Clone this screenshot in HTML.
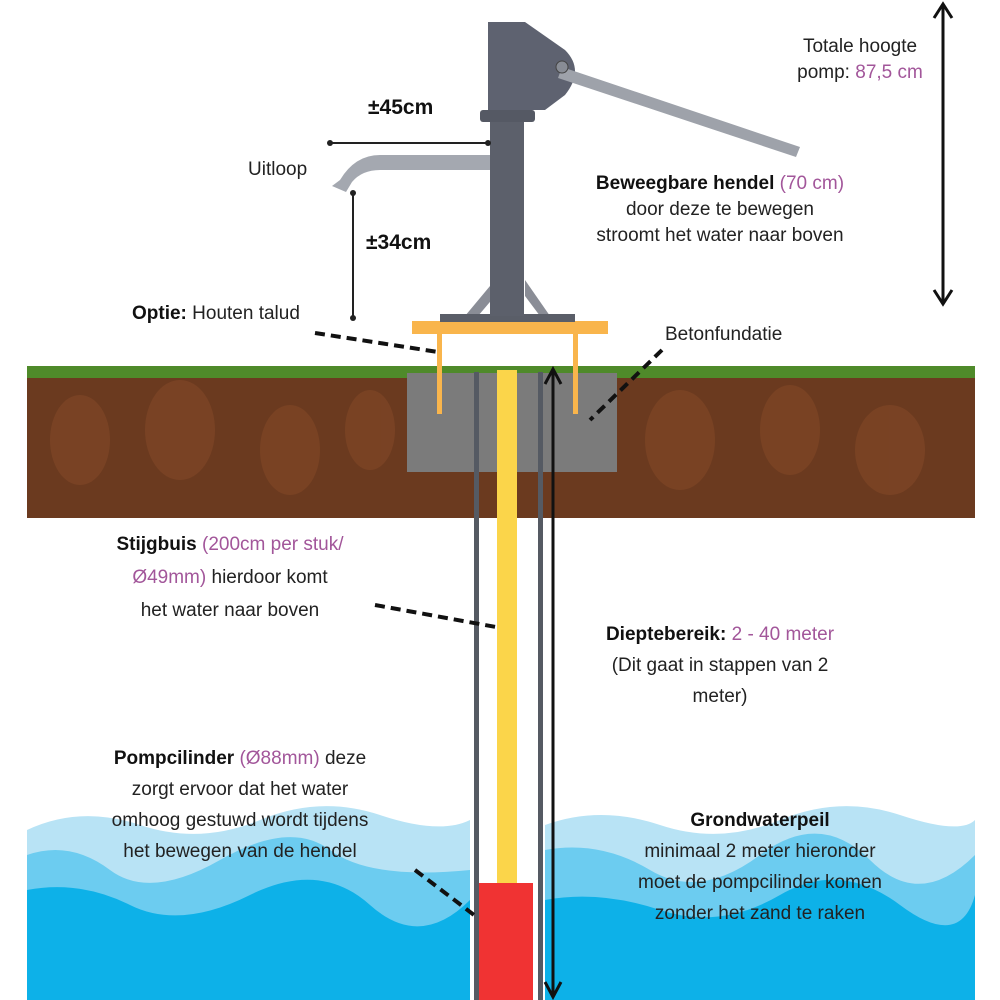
<!DOCTYPE html>
<html><head><style>
body{margin:0;width:1000px;height:1000px;background:#fff;overflow:hidden;position:relative;font-family:"Liberation Sans",sans-serif;color:#222}
.t{position:absolute;font-size:19px;line-height:26px;text-align:center;white-space:nowrap}
.p{color:#a2569a}
b{color:#111}
</style></head><body>
<svg width="1000" height="1000" style="position:absolute;left:0;top:0">
<!-- soil -->
<rect x="27" y="370" width="948" height="148" fill="#6b3a1f"/>
<g fill="#7d4525" opacity="0.8">
<ellipse cx="80" cy="440" rx="30" ry="45"/><ellipse cx="180" cy="430" rx="35" ry="50"/><ellipse cx="290" cy="450" rx="30" ry="45"/><ellipse cx="370" cy="430" rx="25" ry="40"/><ellipse cx="680" cy="440" rx="35" ry="50"/><ellipse cx="790" cy="430" rx="30" ry="45"/><ellipse cx="890" cy="450" rx="35" ry="45"/>
</g>
<rect x="27" y="366" width="948" height="12" fill="#4f8a2a"/>
<!-- concrete -->
<rect x="407" y="373" width="210" height="99" fill="#7b7b7b"/>
<!-- water -->
<path d="M27 830 Q80 805 140 825 T260 820 T380 815 T470 820 L470 1000 L27 1000Z" fill="#b8e3f5"/>
<path d="M545 825 Q600 805 660 825 T780 820 T900 815 T975 820 L975 1000 L545 1000Z" fill="#b8e3f5"/>
<path d="M27 855 Q70 840 110 870 T220 860 T330 850 T470 870 L470 1000 L27 1000Z" fill="#6cccf0"/>
<path d="M545 850 Q600 840 650 870 T760 855 T870 860 T975 855 L975 1000 L545 1000Z" fill="#6cccf0"/>
<path d="M27 890 Q80 880 130 905 T250 895 T370 905 T470 900 L470 1000 L27 1000Z" fill="#0db1e8"/>
<path d="M545 900 Q600 890 660 910 T780 895 T900 905 T975 895 L975 1000 L545 1000Z" fill="#0db1e8"/>
<!-- pipes -->
<rect x="474" y="372" width="5" height="628" fill="#555a63"/>
<rect x="538" y="372" width="5" height="628" fill="#555a63"/>
<rect x="497" y="370" width="20" height="515" fill="#fbd54a"/>
<rect x="479" y="883" width="54" height="117" fill="#f03333"/>
<!-- depth arrow -->
<line x1="553" y1="372" x2="553" y2="995" stroke="#111" stroke-width="3"/>
<path d="M545 384 L553 369 L561 384" fill="none" stroke="#111" stroke-width="3"/>
<path d="M545 982 L553 997 L561 982" fill="none" stroke="#111" stroke-width="3"/>
<!-- total height arrow -->
<line x1="943" y1="6" x2="943" y2="302" stroke="#111" stroke-width="3"/>
<path d="M934 18 L943 4 L952 18" fill="none" stroke="#111" stroke-width="3"/>
<path d="M934 290 L943 304 L952 290" fill="none" stroke="#111" stroke-width="3"/>
<!-- wooden talud -->
<rect x="412" y="321" width="196" height="13" fill="#f9b54c"/>
<rect x="437" y="334" width="5" height="80" fill="#f9b54c"/>
<rect x="573" y="334" width="5" height="80" fill="#f9b54c"/>
<!-- pump -->
<path d="M465 316 L495 280 L495 296 L478 316Z" fill="#8a8d96"/>
<path d="M550 316 L525 280 L525 296 L540 316Z" fill="#8a8d96"/>
<rect x="440" y="314" width="135" height="8" fill="#5a5e68"/>
<rect x="490" y="110" width="34" height="206" fill="#5c606b"/>
<rect x="480" y="110" width="55" height="12" rx="3" fill="#555964"/>
<path d="M488 22 L525 22 L565 50 Q585 70 565 95 L545 110 L488 110Z" fill="#5e6270"/>
<path d="M562 67 L800 147 L796 157 L558 78Z" fill="#9ea2aa"/>
<circle cx="562" cy="67" r="6" fill="#888c95" stroke="#444" stroke-width="1"/>
<path d="M490 155 L380 155 Q355 155 340 180 L332 186 L346 192 L352 182 Q362 170 380 170 L490 170Z" fill="#a4a8b0"/>
<!-- dimension lines -->
<line x1="330" y1="143" x2="488" y2="143" stroke="#222" stroke-width="2"/>
<circle cx="330" cy="143" r="3" fill="#222"/><circle cx="488" cy="143" r="3" fill="#222"/>
<line x1="353" y1="193" x2="353" y2="318" stroke="#222" stroke-width="2"/>
<circle cx="353" cy="193" r="3" fill="#222"/><circle cx="353" cy="318" r="3" fill="#222"/>
<!-- dashed leaders -->
<g stroke="#111" stroke-width="4" stroke-dasharray="10,6" fill="none">
<line x1="315" y1="333" x2="438" y2="352"/>
<line x1="662" y1="350" x2="590" y2="420"/>
<line x1="375" y1="605" x2="496" y2="627"/>
<line x1="415" y1="870" x2="478" y2="918"/>
</g>
</svg>
<div class="t" style="left:760px;top:34px;width:200px">Totale hoogte<br>pomp: <span class="p">87,5 cm</span></div>
<div class="t" style="left:368px;top:95px;font-weight:bold;font-size:21px"><b>±45cm</b></div>
<div class="t" style="left:248px;top:157px">Uitloop</div>
<div class="t" style="left:366px;top:230px;font-size:21px"><b>±34cm</b></div>
<div class="t" style="left:510px;top:171px;width:420px">
<b>Beweegbare hendel</b> <span class="p">(70 cm)</span><br>door deze te bewegen<br>stroomt het water naar boven</div>
<div class="t" style="left:132px;top:301px"><b>Optie:</b> Houten talud</div>
<div class="t" style="left:665px;top:322px">Betonfundatie</div>
<div class="t" style="left:60px;top:528px;width:340px;line-height:33px">
<b>Stijgbuis</b> <span class="p">(200cm per stuk/</span><br><span class="p">Ø49mm)</span> hierdoor komt<br>het water naar boven</div>
<div class="t" style="left:560px;top:619px;width:320px;line-height:31px">
<b>Dieptebereik:</b> <span class="p">2 - 40 meter</span><br>(Dit gaat in stappen van 2<br>meter)</div>
<div class="t" style="left:60px;top:743px;width:360px;line-height:31px">
<b>Pompcilinder</b> <span class="p">(Ø88mm)</span> deze<br>zorgt ervoor dat het water<br>omhoog gestuwd wordt tijdens<br>het bewegen van de hendel</div>
<div class="t" style="left:590px;top:805px;width:340px;line-height:31px">
<b>Grondwaterpeil</b><br>minimaal 2 meter hieronder<br>moet de pompcilinder komen<br>zonder het zand te raken</div>
</body></html>
